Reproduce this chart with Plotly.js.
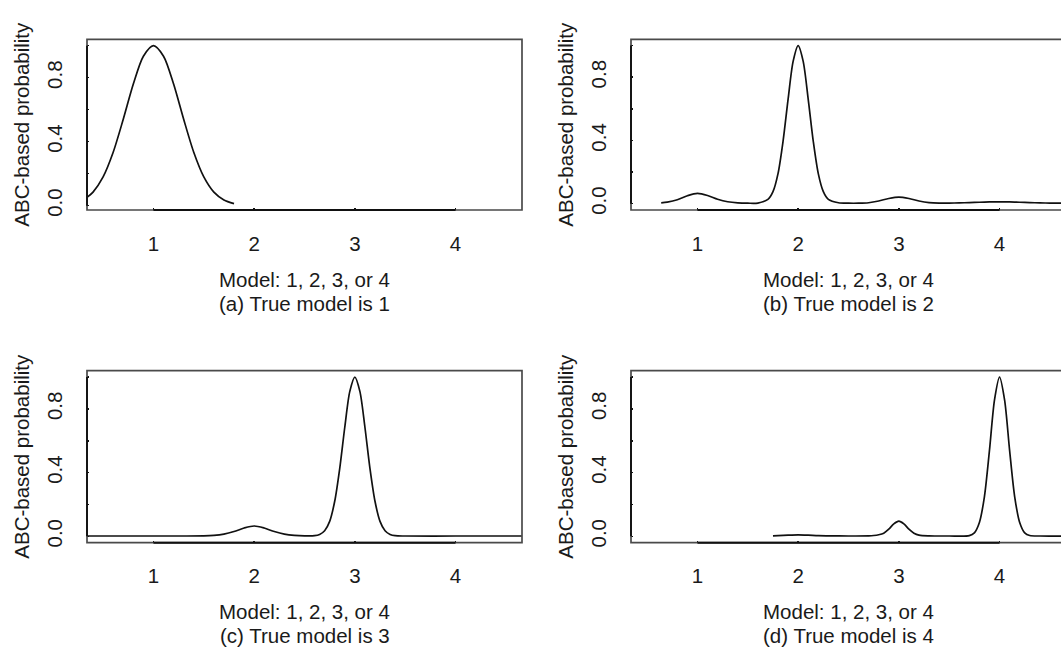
<!DOCTYPE html>
<html>
<head>
<meta charset="utf-8">
<script src="https://cdn.plot.ly/plotly-3.0.1.min.js"></script>
<style>
html,body{margin:0;padding:0;overflow:hidden;background:#fff;width:1061px;height:648px;}
#chart{width:1100px;height:648px;}
</style>
</head>
<body>
<div id="chart"></div>
<script>
// ---- data ----
const xTicks = [1, 2, 3, 4];
const xTickText = ["1", "2", "3", "4"];
const yTicks = [0, 0.2, 0.4, 0.6, 0.8, 1.0];
const yTickText = ["0.0", "", "0.4", "", "0.8", ""];
const xTitle = "Model: 1, 2, 3, or 4";
const yTitle = "ABC-based probability";
const captions = ["(a) True model is 1", "(b) True model is 2", "(c) True model is 3", "(d) True model is 4"];

const xA = [0.34, 0.4, 0.5, 0.6, 0.7, 0.8, 0.9, 1.0, 1.1, 1.2, 1.3, 1.4, 1.5, 1.6, 1.7, 1.8];
const yA = [0.052, 0.085, 0.18, 0.334, 0.54, 0.76, 0.934, 1.0, 0.934, 0.76, 0.54, 0.334, 0.18, 0.085, 0.036, 0.013];

const xB = [0.64, 0.7, 0.8, 0.9, 1.0, 1.1, 1.2, 1.3, 1.4, 1.5, 1.6, 1.7, 1.75, 1.8, 1.85, 1.9, 1.95, 2.0,
            2.05, 2.1, 2.15, 2.2, 2.25, 2.3, 2.4, 2.5, 2.6, 2.7, 2.8, 2.9, 3.0, 3.1, 3.2, 3.3, 3.4, 3.5,
            3.6, 3.7, 3.8, 3.9, 4.0, 4.1, 4.2, 4.3, 4.4, 4.5, 4.66];
const yB = [0.005, 0.010, 0.025, 0.050, 0.065, 0.052, 0.028, 0.012, 0.005, 0.003, 0.004, 0.027, 0.076, 0.19, 0.395, 0.66, 0.90, 1.0,
            0.90, 0.66, 0.395, 0.19, 0.076, 0.027, 0.006, 0.003, 0.003, 0.006, 0.017, 0.033, 0.042, 0.033, 0.017, 0.007, 0.004, 0.004,
            0.005, 0.007, 0.009, 0.011, 0.012, 0.011, 0.009, 0.007, 0.005, 0.004, 0.003];

const xC = [0.34, 1.0, 1.5, 1.6, 1.7, 1.8, 1.9, 2.0, 2.1, 2.2, 2.3, 2.4, 2.5, 2.6, 2.65, 2.7, 2.75, 2.8, 2.85, 2.9, 2.95, 3.0,
            3.05, 3.1, 3.15, 3.2, 3.25, 3.3, 3.35, 3.4, 3.5, 4.0, 4.66];
const yC = [0.002, 0.002, 0.003, 0.006, 0.014, 0.030, 0.052, 0.065, 0.052, 0.030, 0.014, 0.006, 0.003, 0.004, 0.012, 0.035, 0.094, 0.22, 0.427, 0.685, 0.91, 1.0,
            0.91, 0.685, 0.427, 0.22, 0.094, 0.035, 0.012, 0.004, 0.002, 0.002, 0.002];

const xD = [1.75, 1.8, 1.9, 2.0, 2.1, 2.2, 2.3, 2.5, 2.7, 2.75, 2.8, 2.85, 2.9, 2.95, 3.0, 3.05, 3.1, 3.15, 3.2, 3.3, 3.5,
            3.7, 3.75, 3.8, 3.85, 3.9, 3.95, 4.0, 4.05, 4.1, 4.15, 4.2, 4.25, 4.3, 4.4, 4.66];
const yD = [0.003, 0.004, 0.007, 0.009, 0.007, 0.004, 0.003, 0.002, 0.003, 0.005, 0.010, 0.020, 0.045, 0.078, 0.095, 0.078, 0.045, 0.020, 0.008, 0.003, 0.002,
            0.004, 0.022, 0.087, 0.25, 0.54, 0.857, 1.0, 0.857, 0.54, 0.25, 0.087, 0.022, 0.005, 0.002, 0.002];

const xRange = [0.34, 4.66];
const yRanges = [[-0.027, 1.04], [-0.04, 1.04], [-0.04, 1.04], [-0.04, 1.04]];

// ---- layout geometry (pixels, page 1100 wide, 648 tall) ----
const W = 1100, H = 648;
const FONT = "Liberation Sans, Arial, Helvetica, sans-serif";
const FS = 20.5;
const TXT = "#1a1a1a";
const panels = [
  {x0: 87, x1: 522, top: 39.3, bottom: 210},
  {x0: 631, x1: 1066, top: 39.3, bottom: 210},
  {x0: 87, x1: 522, top: 370.7, bottom: 542.7},
  {x0: 631, x1: 1066, top: 370.7, bottom: 542.7}
];
const series = [[xA, yA], [xB, yB], [xC, yC], [xD, yD]];

const data = [];
const layout = {
  width: W, height: H,
  margin: {l: 0, r: 0, t: 0, b: 0},
  paper_bgcolor: "#fff", plot_bgcolor: "#fff",
  showlegend: false,
  font: {family: FONT, size: FS, color: TXT},
  shapes: [], annotations: []
};

panels.forEach((p, i) => {
  const n = i === 0 ? "" : String(i + 1);
  const xa = "x" + n, ya = "y" + n;
  data.push({
    type: "scatter", mode: "lines",
    x: series[i][0], y: series[i][1],
    xaxis: xa, yaxis: ya,
    line: {color: "#111", width: 1.7, shape: "spline", smoothing: 0.8},
    hoverinfo: "skip"
  });
  layout["xaxis" + n] = {
    domain: [p.x0 / W, p.x1 / W], anchor: ya, range: xRange,
    showgrid: false, zeroline: false, showline: false,
    tickvals: xTicks, ticktext: xTickText,
    ticks: "inside", ticklen: 2, tickwidth: 1.5, tickcolor: "#111",
    ticklabelstandoff: 19,
    tickfont: {family: FONT, size: FS, color: TXT}
  };
  layout["yaxis" + n] = {
    domain: [1 - p.bottom / H, 1 - p.top / H], anchor: xa, range: yRanges[i],
    showgrid: false, zeroline: false, showline: false,
    tickvals: yTicks, ticktext: yTickText, tickangle: -90,
    ticks: "inside", ticklen: 2, tickwidth: 1.5, tickcolor: "#111",
    ticklabelstandoff: 20,
    tickfont: {family: FONT, size: FS, color: TXT}
  };
  // box
  layout.shapes.push({type: "rect", xref: xa + " domain", yref: ya + " domain",
    x0: 0, x1: 1, y0: 0, y1: 1, line: {color: "#4a4a4a", width: 1.7}, layer: "above"});
  // axis lines (from first to last tick)
  layout.shapes.push({type: "line", xref: xa, yref: ya + " domain",
    x0: xTicks[0], x1: xTicks[xTicks.length - 1], y0: 0, y1: 0, line: {color: "#111", width: 1.9}});
  layout.shapes.push({type: "line", xref: xa + " domain", yref: ya,
    x0: 0, x1: 0, y0: yTicks[0], y1: yTicks[yTicks.length - 1], line: {color: "#111", width: 1.9}});
  const cx = (p.x0 + p.x1) / 2 / W;
  layout.annotations.push({text: xTitle, xref: "paper", yref: "paper", x: cx, y: 1 - (p.bottom + 69) / H,
    showarrow: false, xanchor: "center", yanchor: "middle", font: {family: FONT, size: FS, color: TXT}});
  layout.annotations.push({text: captions[i], xref: "paper", yref: "paper", x: cx, y: 1 - (p.bottom + 93) / H,
    showarrow: false, xanchor: "center", yanchor: "middle", font: {family: FONT, size: FS, color: TXT}});
  layout.annotations.push({text: yTitle, xref: "paper", yref: "paper", x: (p.x0 - 65) / W, y: 1 - (p.top + p.bottom) / 2 / H,
    textangle: -90, showarrow: false, xanchor: "center", yanchor: "middle", font: {family: FONT, size: FS, color: TXT}});
});

Plotly.newPlot("chart", data, layout, {displayModeBar: false, staticPlot: true});
</script>
</body>
</html>
